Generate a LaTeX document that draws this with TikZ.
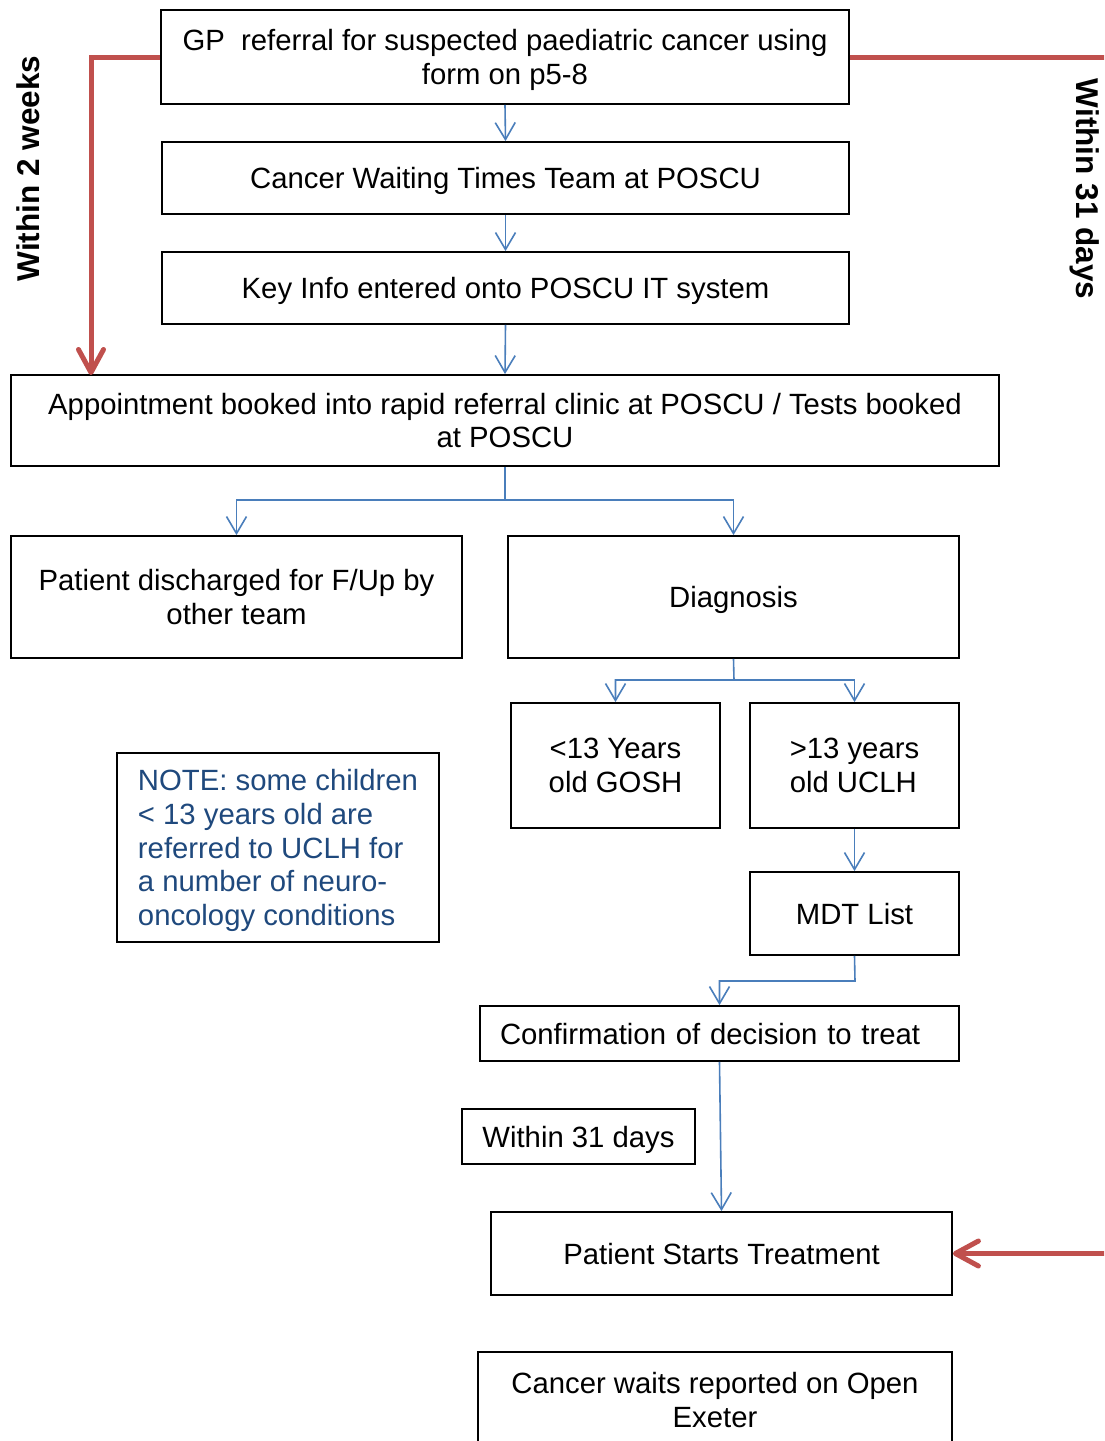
\documentclass[tikz,border=0pt]{standalone}
\usepackage{fontspec}
\setmainfont{Liberation Sans}
\usetikzlibrary{arrows.meta}
\definecolor{flowblue}{HTML}{4A7EBB}
\definecolor{redarrow}{HTML}{C0504D}
\definecolor{noteblue}{HTML}{1F497D}
\tikzset{
  box/.style={draw=black, line width=1.8pt, inner sep=0pt, align=center,
    text depth=0pt, font=\fontsize{29.3}{33.7}\selectfont},
  flow/.style={draw=flowblue, line width=1.6pt,
    -{Straight Barb[length=17pt,width=20pt]}},
  redflow/.style={draw=redarrow, line width=5pt,
    -{Straight Barb[length=23pt,width=25pt,round]}},
  sidelabel/.style={font=\fontsize{31.5}{36}\selectfont\bfseries, inner sep=0pt}
}
\begin{document}
\begin{tikzpicture}[x=1pt,y=-1pt]
\useasboundingbox (0,0) rectangle (1104,1441);
\fill[white] (0,0) rectangle (1104,1441);
\clip (0,0) rectangle (1104,1441);

% boxes
\node[box, minimum width=688pt, minimum height=94pt] (gp) at (505,57)
  {GP\ \ referral for suspected paediatric cancer using\\form on p5-8};
\node[box, minimum width=687pt, minimum height=72pt] (cwt) at (505.5,178)
  {Cancer Waiting Times Team at POSCU};
\node[box, minimum width=687pt, minimum height=72pt] (key) at (505.5,288)
  {Key Info entered onto POSCU IT system};
\node[box, minimum width=988pt, minimum height=91pt] (appt) at (505,420.5)
  {Appointment booked into rapid referral clinic at POSCU / Tests booked\\at POSCU};
\node[box, minimum width=451pt, minimum height=122pt] (disch) at (236.5,597)
  {Patient discharged for F/Up by\\other team};
\node[box, minimum width=451pt, minimum height=122pt] (diag) at (733.5,597)
  {Diagnosis};
\node[box, minimum width=209pt, minimum height=125pt] (lt) at (615.5,765.5)
  {<13 Years\\old GOSH};
\node[box, minimum width=209pt, minimum height=125pt, align=left] (gt) at (854.5,765.5)
  {>13 years\\old UCLH};
\node[box, minimum width=209pt, minimum height=83pt] (mdt) at (854.5,913.5)
  {MDT List};
\node[box, minimum width=479pt, minimum height=55pt, text width=439pt,
  align=left] (conf) at (719.5,1033.5)
  {Confirmation of decision to treat};
\node[box, minimum width=233pt, minimum height=55pt] (w31) at (578.5,1136.5)
  {Within 31 days};
\node[box, minimum width=461pt, minimum height=83pt] (pst) at (721.5,1253.5)
  {Patient Starts Treatment};
\node[box, minimum width=474pt, minimum height=96pt] (owe) at (715,1400)
  {Cancer waits reported on Open\\Exeter};
\node[box, minimum width=322pt, minimum height=189pt,
  align=left, text=noteblue] (note) at (278,847.5)
  {NOTE: some children\\< 13 years old are\\referred to UCLH for\\a number of neuro-\\oncology conditions};

% side labels
\node[sidelabel, rotate=90] (lbl2w) at (28,168.5) {Within 2 weeks};
\node[sidelabel, rotate=-90] (lbl31) at (1085,189) {Within 31 days};

% blue flow connectors
\coordinate (s1) at (505,500);
\coordinate (s2) at (734,680);
\coordinate (s3) at (855,981);
\draw[flow] (gp.south) -- (cwt.north);
\draw[flow] (cwt.south) -- (key.north);
\draw[flow] (key.south) -- (appt.north);
\draw[flow] (appt.south) -- (s1) -| (disch.north);
\draw[flow] (s1) -| (diag.north);
\draw[flow] (diag.south) -- (s2) -| (lt.north);
\draw[flow] (s2) -| (gt.north);
\draw[flow] (gt.south) -- (mdt.north);
\draw[flow] (mdt.south) -- (s3) -| (conf.north);
\draw[flow] (conf.south) -- (pst.north);

% red timing connectors
\coordinate (r1) at (91,375);
\coordinate (r2) at (1140,57);
\coordinate (r3) at (1140,1253.5);
\draw[redflow] (gp.west) -| (r1);
\draw[redflow] (gp.east) -- (r2) -- (r3) -- (pst.east);
\end{tikzpicture}
\end{document}
